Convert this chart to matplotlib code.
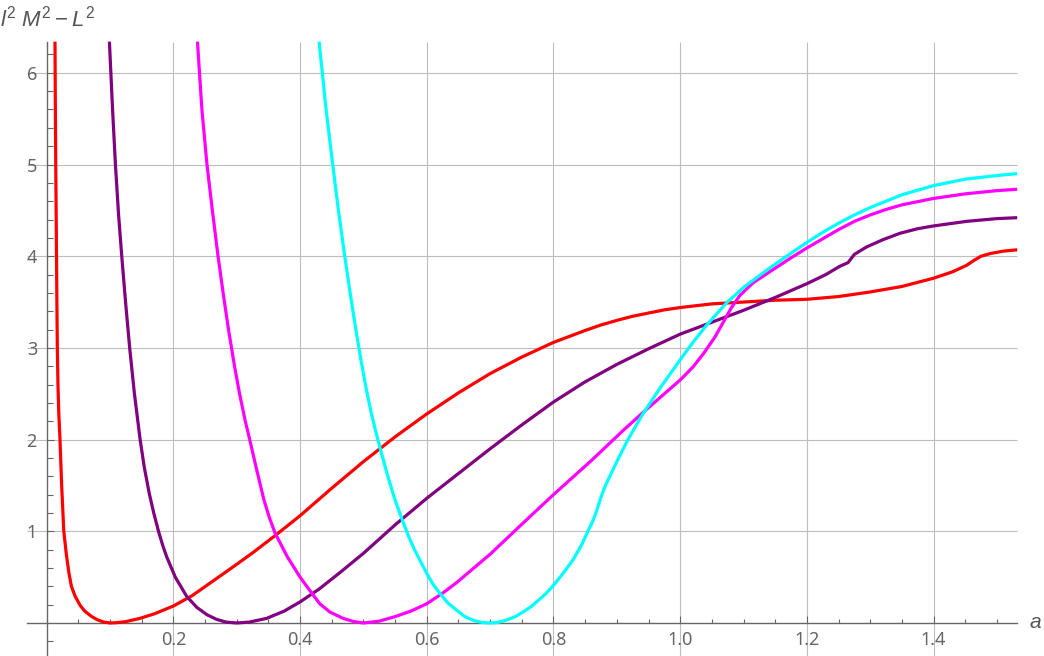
import numpy as np
import matplotlib
matplotlib.use("Agg")
import matplotlib.pyplot as plt
from matplotlib.ticker import FixedLocator

plt.rcParams['font.family'] = ['Noto Sans', 'DejaVu Sans']
plt.rcParams['mathtext.fontset'] = 'custom'
plt.rcParams['mathtext.rm'] = 'Liberation Sans'
plt.rcParams['mathtext.it'] = 'Liberation Sans:italic'

# curve data (a, l^2 M^2 - L^2)
red_a = [0.0131, 0.0137, 0.0143, 0.0149, 0.0155, 0.0161, 0.0168, 0.0178, 0.019, 0.021, 0.0237,
         0.027, 0.031, 0.035, 0.039, 0.045, 0.053, 0.06, 0.071, 0.08, 0.09, 0.1, 0.11, 0.125,
         0.147, 0.17, 0.2, 0.23, 0.263, 0.3, 0.326, 0.36, 0.4, 0.45, 0.5, 0.55, 0.6, 0.65,
         0.7, 0.75, 0.8, 0.85, 0.875, 0.9, 0.925, 0.95, 0.975, 1.0, 1.05, 1.1, 1.15, 1.2, 1.25,
         1.3, 1.35, 1.4, 1.43, 1.452, 1.465, 1.475, 1.49, 1.51, 1.532]
red_y = [6.34, 5.6, 5.0, 4.5, 4.0, 3.5, 3.0, 2.6, 2.3, 2.0, 1.49,
         1.0, 0.75, 0.55, 0.4, 0.29, 0.19, 0.13, 0.07, 0.035, 0.01, 0.0, 0.003, 0.015,
         0.05, 0.1, 0.185, 0.3, 0.46, 0.64, 0.77, 0.95, 1.17, 1.47, 1.76, 2.03, 2.28, 2.51,
         2.72, 2.90, 3.06, 3.19, 3.25, 3.30, 3.345, 3.38, 3.415, 3.44, 3.48, 3.50, 3.52, 3.53, 3.56,
         3.61, 3.67, 3.76, 3.83, 3.90, 3.96, 4.0, 4.03, 4.055, 4.07]

pur_a = [0.0990, 0.1040, 0.1085, 0.1135, 0.1185, 0.1245, 0.1310, 0.1385, 0.1475, 0.1540, 0.1620,
         0.1690, 0.1765, 0.1830, 0.1895, 0.203, 0.221, 0.237, 0.253, 0.268, 0.283, 0.3, 0.32,
         0.347, 0.375, 0.4, 0.43, 0.463, 0.5, 0.55, 0.6, 0.65, 0.7, 0.75, 0.8, 0.85, 0.9, 0.95,
         1.0, 1.05, 1.1, 1.15, 1.2, 1.23, 1.252, 1.265, 1.275, 1.294, 1.32, 1.347, 1.375, 1.4,
         1.452, 1.5, 1.532]
pur_y = [6.34, 5.6, 5.0, 4.45, 4.0, 3.5, 3.0, 2.5, 2.0, 1.7, 1.41,
         1.2, 1.0, 0.85, 0.72, 0.5, 0.29, 0.17, 0.09, 0.04, 0.01, 0.0, 0.01,
         0.05, 0.13, 0.23, 0.37, 0.55, 0.76, 1.07, 1.36, 1.63, 1.90, 2.16, 2.41, 2.63, 2.82, 2.99,
         3.15, 3.28, 3.41, 3.55, 3.70, 3.80, 3.89, 3.93, 4.02, 4.10, 4.18, 4.25, 4.30, 4.33,
         4.38, 4.41, 4.42]

mag_a = [0.238, 0.245, 0.253, 0.2615, 0.2705, 0.2785, 0.2870, 0.2965, 0.3045, 0.3135, 0.3205,
         0.3305, 0.343, 0.3515, 0.3605, 0.38, 0.4, 0.418, 0.431, 0.447, 0.468, 0.485, 0.5, 0.525,
         0.55, 0.575, 0.6, 0.625, 0.647, 0.7, 0.752, 0.8, 0.858, 0.91, 0.942, 1.0, 1.02, 1.037,
         1.055, 1.068, 1.081, 1.094, 1.115, 1.137, 1.17, 1.2, 1.225, 1.25, 1.275, 1.3, 1.325,
         1.35, 1.4, 1.45, 1.5, 1.532]
mag_y = [6.34, 5.6, 5.0, 4.5, 4.0, 3.6, 3.2, 2.8, 2.5, 2.2, 2.0,
         1.7, 1.34, 1.15, 0.98, 0.72, 0.5, 0.33, 0.21, 0.12, 0.05, 0.015, 0.0, 0.02,
         0.07, 0.13, 0.21, 0.325, 0.44, 0.75, 1.09, 1.40, 1.76, 2.10, 2.30, 2.65, 2.79, 2.94,
         3.12, 3.28, 3.44, 3.57, 3.71, 3.81, 3.96, 4.09, 4.19, 4.29, 4.38, 4.45, 4.51,
         4.56, 4.63, 4.68, 4.715, 4.73]

cy_a = [0.4300, 0.4410, 0.4515, 0.4605, 0.4705, 0.4790, 0.4880, 0.4965, 0.5045, 0.5120, 0.5190,
        0.5285, 0.5385, 0.5495, 0.5615, 0.5710, 0.5805, 0.600, 0.610, 0.621, 0.633, 0.647,
        0.660, 0.675, 0.688, 0.700, 0.712, 0.725, 0.740, 0.752, 0.765, 0.775, 0.788, 0.800,
        0.815, 0.831, 0.845, 0.855, 0.862, 0.868, 0.872, 0.876, 0.882, 0.889, 0.900, 0.916,
        0.930, 0.942, 0.970, 1.000, 1.020, 1.042, 1.073, 1.100, 1.137, 1.170, 1.200, 1.225,
        1.250, 1.275, 1.300, 1.325, 1.350, 1.375, 1.400, 1.450, 1.500, 1.532]
cy_y = [6.34, 5.6, 5.0, 4.5, 4.0, 3.6, 3.2, 2.85, 2.55, 2.3, 2.1,
        1.85, 1.6, 1.35, 1.12, 0.95, 0.8, 0.54, 0.42, 0.32, 0.22, 0.14,
        0.07, 0.025, 0.005, 0.0, 0.005, 0.03, 0.07, 0.12, 0.18, 0.24, 0.32, 0.41,
        0.54, 0.69, 0.86, 1.01, 1.11, 1.22, 1.31, 1.39, 1.50, 1.60, 1.76, 1.98,
        2.15, 2.29, 2.58, 2.87, 3.06, 3.25, 3.49, 3.66, 3.85, 4.01, 4.15, 4.26,
        4.36, 4.45, 4.53, 4.60, 4.67, 4.72, 4.77, 4.84, 4.88, 4.90]

x_ticks = [0.2, 0.4, 0.6, 0.8, 1.0, 1.2, 1.4]
x_labels = ['0.2', '0.4', '0.6', '0.8', '1.0', '1.2', '1.4']
y_ticks = [1, 2, 3, 4, 5, 6]
y_labels = ['1', '2', '3', '4', '5', '6']

fig = plt.figure(figsize=(10.44, 6.56), dpi=100)
ax = fig.add_axes([0, 0, 1, 1])
ax.set_xlim(-0.0737, 1.5743)
ax.set_ylim(-0.36, 6.794)

xmin, xmax = -0.0315, 1.531
ymin, ymax = -0.36, 6.34
gc = '#bdbdbd'
ax.hlines(y_ticks, xmin, xmax, color=gc, lw=0.8, zorder=1)
ax.vlines(x_ticks, ymin, ymax, color=gc, lw=0.8, zorder=1)

lw = 2.3
ax.plot(red_a, red_y, color='#ff0000', lw=lw, zorder=3, solid_capstyle='butt', solid_joinstyle='round')
ax.plot(pur_a, pur_y, color='#800080', lw=lw, zorder=3, solid_capstyle='butt', solid_joinstyle='round')
ax.plot(mag_a, mag_y, color='#ff00ff', lw=lw, zorder=3, solid_capstyle='butt', solid_joinstyle='round')
ax.plot(cy_a, cy_y, color='#00ffff', lw=lw, zorder=3, solid_capstyle='butt', solid_joinstyle='round')

for s in ['top', 'right']:
    ax.spines[s].set_visible(False)
ax.spines['left'].set_position(('data', 0))
ax.spines['bottom'].set_position(('data', 0))
ax.spines['left'].set_bounds(ymin, ymax)
ax.spines['bottom'].set_bounds(xmin, xmax)
for s in ['left', 'bottom']:
    ax.spines[s].set_color('#666666')
    ax.spines[s].set_linewidth(1.0)
    ax.spines[s].set_zorder(2)

ax.set_xticks(x_ticks, x_labels)
ax.xaxis.set_minor_locator(FixedLocator([v for v in np.arange(0.05, 1.53, 0.05) if abs(v / 0.2 - round(v / 0.2)) > 1e-6]))
ax.set_yticks(y_ticks, y_labels)
ax.yaxis.set_minor_locator(FixedLocator([v for v in np.arange(-0.2, 6.34, 0.2) if abs(v - round(v)) > 1e-6]))

ax.tick_params(axis='x', which='major', direction='in', length=5, width=0.8, color='#666666',
               labelsize=13, labelcolor='#666666', pad=6)
ax.tick_params(axis='x', which='minor', direction='in', length=3, width=0.8, color='#666666')
ax.tick_params(axis='y', which='major', direction='in', length=5, width=0.8, color='#666666',
               labelsize=13, labelcolor='#666666', pad=7)
ax.tick_params(axis='y', which='minor', direction='in', length=4, width=0.8, color='#666666')

ax.text(1.552, 0, 'a', family='Liberation Sans', style='italic', fontsize=15, color='#555555',
        va='center', ha='left')
fig.text(0.0, 1 - 26 / 656, r'$l^2\ M^2 - L^2$', fontsize=16, color='#555555', va='baseline', ha='left')

fig.savefig('out.png', dpi=100)
